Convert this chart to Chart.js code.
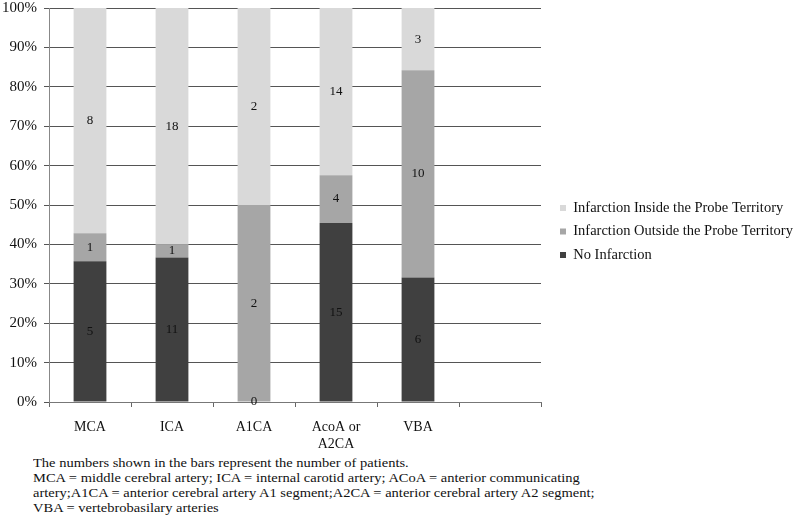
<!DOCTYPE html>
<html>
<head>
<meta charset="utf-8">
<script src="https://cdn.jsdelivr.net/npm/chart.js@4.4.1/dist/chart.umd.min.js"></script>
<style>
    body { margin: 0; background: #fff; }
    #wrap { position: absolute; left: 0; top: 0; width: 797px; height: 455px; }
    #note {
        position: absolute; left: 33px; top: 456px;
        font-family: "Liberation Serif", "Times New Roman", serif;
        font-size: 12.5px; line-height: 15px; color: #111;
        white-space: nowrap;
        transform: scaleX(1.16); transform-origin: left top;
    }
</style>
</head>
<body>
<div id="wrap"><canvas id="chart"></canvas></div>
<div id="note">
    The numbers shown in the bars represent the number of patients.<br>
    MCA = middle cerebral artery; ICA = internal carotid artery; ACoA = anterior communicating<br>
    artery;A1CA = anterior cerebral artery A1 segment;A2CA = anterior cerebral artery A2 segment;<br>
    VBA = vertebrobasilary arteries
</div>
<script>
// Données
const categories = ['MCA', 'ICA', 'A1CA', ['AcoA or', 'A2CA'], 'VBA', ''];
const noInfarction = [5, 11, 0, 15, 6];
const outsideProbe = [1, 1, 2, 4, 10];
const insideProbe = [8, 18, 2, 14, 3];
const yTicks = [0, 10, 20, 30, 40, 50, 60, 70, 80, 90, 100];

const serif = '"Liberation Serif", "Times New Roman", serif';

// Pourcentages (barres empilées à 100 %)
const totals = noInfarction.map((v, i) => v + outsideProbe[i] + insideProbe[i]);
function toPct(arr) {
    return arr.map((v, i) => v / totals[i] * 100);
}

// Étiquettes des nombres de patients dans les barres
const countLabels = {
    id: 'countLabels',
    afterDatasetsDraw(chart) {
        const ctx = chart.ctx;
        ctx.save();
        ctx.font = '13px ' + serif;
        ctx.fillStyle = '#111';
        ctx.textAlign = 'center';
        ctx.textBaseline = 'middle';
        chart.data.datasets.forEach((ds, di) => {
            const meta = chart.getDatasetMeta(di);
            meta.data.forEach((bar, i) => {
                if (ds.counts[i] === undefined) return;
                const p = bar.getProps(['x', 'y', 'base'], true);
                ctx.fillText(String(ds.counts[i]), p.x, (p.y + p.base) / 2);
            });
        });
        ctx.restore();
    }
};

// Légende décalée à droite du graphique
const legendOffset = {
    id: 'legendOffset',
    beforeInit(chart) {
        const legend = chart.legend;
        if (!legend) return;
        const origFit = legend.fit;
        legend.fit = function() {
            origFit.call(this);
            this.width = 797 - 541;
        };
    },
    afterLayout(chart) {
        if (chart.legend) {
            chart.legend.left += 10;
            chart.legend.right += 10;
        }
    }
};

function drawChart() {
    const ctx = document.getElementById('chart').getContext('2d');
    new Chart(ctx, {
        type: 'bar',
        data: {
            labels: categories,
            datasets: [
                { label: 'No Infarction', data: toPct(noInfarction), counts: noInfarction, backgroundColor: '#404040' },
                { label: 'Infarction Outside the Probe Territory', data: toPct(outsideProbe), counts: outsideProbe, backgroundColor: '#a6a6a6' },
                { label: 'Infarction Inside the Probe Territory', data: toPct(insideProbe), counts: insideProbe, backgroundColor: '#d9d9d9' }
            ]
        },
        options: {
            responsive: true,
            maintainAspectRatio: false,
            animation: false,
            layout: { padding: { top: 8, left: 0, right: 0, bottom: 0 } },
            datasets: { bar: { categoryPercentage: 0.4, barPercentage: 1, borderWidth: 0 } },
            scales: {
                x: {
                    stacked: true,
                    grid: { drawOnChartArea: false, drawTicks: true, tickLength: 5, offset: true, color: '#666' },
                    border: { color: '#777' },
                    ticks: { color: '#111', font: { family: serif, size: 14 }, padding: 12, maxRotation: 0, autoSkip: false },
                    afterFit(scale) { scale.height = 53; scale.paddingLeft = 0; scale.paddingRight = 0; }
                },
                y: {
                    stacked: true,
                    min: 0,
                    max: 100,
                    afterBuildTicks(scale) { scale.ticks = yTicks.map(v => ({ value: v })); },
                    grid: { color: '#555', tickLength: 5 },
                    border: { color: '#888' },
                    ticks: {
                        color: '#111',
                        font: { family: serif, size: 15 },
                        padding: 7,
                        callback: v => v + '%'
                    },
                    afterFit(scale) { scale.width = 49; scale.paddingTop = 0; scale.paddingBottom = 0; }
                }
            },
            plugins: {
                legend: {
                    position: 'right',
                    reverse: true,
                    labels: {
                        boxWidth: 6,
                        boxHeight: 6,
                        padding: 9,
                        color: '#111',
                        font: { family: serif, size: 14.5 }
                    }
                },
                tooltip: { enabled: false }
            }
        },
        plugins: [countLabels, legendOffset]
    });
}

document.addEventListener('DOMContentLoaded', function() {
    if (document.fonts && document.fonts.load) {
        document.fonts.load('14px "Liberation Serif"').then(drawChart, drawChart);
    } else {
        drawChart();
    }
});
</script>
</body>
</html>
